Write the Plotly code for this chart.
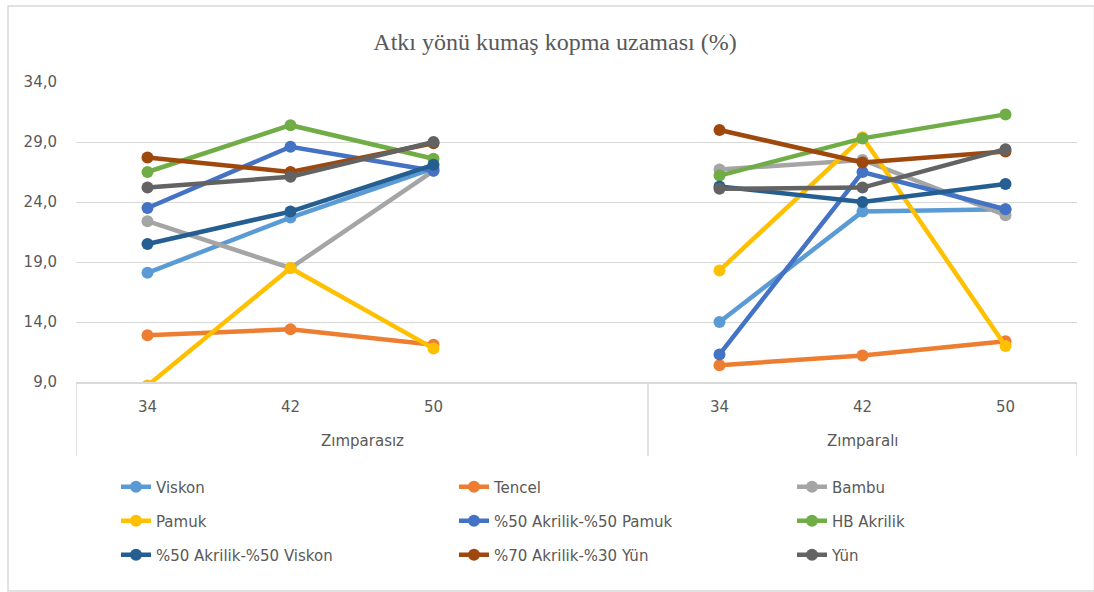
import plotly.graph_objects as go

# ---------------- data ----------------
groups = ["Zımparasız", "Zımparalı"]
counts = ["34", "42", "50"]

series_names = [
    "Viskon", "Tencel", "Bambu",
    "Pamuk", "%50 Akrilik-%50 Pamuk", "HB Akrilik",
    "%50 Akrilik-%50 Viskon", "%70 Akrilik-%30 Yün", "Yün",
]
# values: Zımparasız 34, 42, 50 | Zımparalı 34, 42, 50
viskon = [18.1, 22.7, 26.8, 14.0, 23.2, 23.4]
tencel = [12.9, 13.4, 12.1, 10.4, 11.2, 12.4]
bambu = [22.4, 18.5, 26.6, 26.7, 27.5, 22.9]
pamuk = [8.7, 18.5, 11.8, 18.3, 29.4, 12.0]
akr_pamuk = [23.5, 28.6, 26.6, 11.3, 26.5, 23.4]
hb_akrilik = [26.5, 30.4, 27.6, 26.2, 29.3, 31.3]
akr_viskon = [20.5, 23.2, 27.1, 25.3, 24.0, 25.5]
akr_yun = [27.7, 26.5, 28.9, 30.0, 27.3, 28.2]
yun = [25.2, 26.1, 29.0, 25.1, 25.2, 28.4]

series_values = [viskon, tencel, bambu, pamuk, akr_pamuk, hb_akrilik,
                 akr_viskon, akr_yun, yun]
colors = ["#5B9BD5", "#ED7D31", "#A5A5A5", "#FFC000", "#4472C4", "#70AD47",
          "#255E91", "#9E480E", "#636363"]

y_ticks = [9, 14, 19, 24, 29, 34]
title_text = "Atkı yönü kumaş kopma uzaması (%)"

# ---------------- layout geometry ----------------
W, H = 1094, 592
L, R, T, B = 76, 17, 82, 210
plot_w = W - L - R
plot_h = H - T - B


def px_x(px):
    return (px - L) / plot_w


def px_y(py):
    return (H - B - py) / plot_h


# category slots: each group has its counts, first group followed by one empty slot
slots_per_group = [len(counts) + 1, len(counts)]
group_start = [0, slots_per_group[0]]
x_pos, x_text = [], []
for gi in range(len(groups)):
    for ci, c in enumerate(counts):
        x_pos.append(group_start[gi] + ci)
        x_text.append(c)
n_slots = sum(slots_per_group)

# legend grid: 3 columns x 3 rows, one small legend per entry
leg_cols_x = [116, 454, 792]
leg_rows_y = [487, 521, 555]
legend_ids = ["legend" if k == 0 else f"legend{k + 1}" for k in range(len(series_names))]

fig = go.Figure()
for i, (name, vals, col) in enumerate(zip(series_names, series_values, colors)):
    for gi in range(len(groups)):
        seg = slice(gi * len(counts), (gi + 1) * len(counts))
        fig.add_trace(go.Scatter(
            x=x_pos[seg], y=vals[seg], name=name,
            mode="lines+markers",
            line=dict(color=col, width=4.5),
            marker=dict(color=col, size=12),
            legend=legend_ids[i],
            legendgroup=name,
            showlegend=(gi == 0),
            hovertemplate=groups[gi] + " %{text}: %{y:.1f}<extra>" + name + "</extra>",
            text=x_text[seg],
        ))

font_main = "DejaVu Sans"
txt_col = "#595959"
grid_col = "#D9D9D9"

legends = {}
for k, lid in enumerate(legend_ids):
    legends[lid] = dict(
        orientation="h", xref="container", yref="container",
        xanchor="left", yanchor="middle",
        x=leg_cols_x[k % 3] / W, y=1 - leg_rows_y[k // 3] / H,
        font=dict(family=font_main, size=15, color=txt_col),
        bgcolor="rgba(0,0,0,0)",
    )

fig.update_layout(
    width=W, height=H,
    margin=dict(l=L, r=R, t=T, b=B, pad=0),
    paper_bgcolor="white", plot_bgcolor="white",
    separators=",.",
    title=dict(text=title_text, x=555 / W, xanchor="center", xref="container",
               y=1 - 42 / H, yanchor="middle", yref="container",
               font=dict(family="Liberation Serif", size=24, color=txt_col)),
    font=dict(family=font_main, size=15, color=txt_col),
    showlegend=True,
    **legends,
)

fig.update_yaxes(
    range=[9, 34], tickvals=y_ticks, tickformat=".1f",
    showgrid=True, gridcolor=grid_col, gridwidth=1.3,
    zeroline=False, showline=False, ticks="",
    ticklabelstandoff=18,
    tickfont=dict(family=font_main, size=15, color=txt_col),
)
fig.update_xaxes(
    range=[-0.5, n_slots - 0.5], tickvals=x_pos, ticktext=x_text,
    showgrid=False, zeroline=False,
    showline=True, linecolor=grid_col, linewidth=1.5,
    ticks="", ticklabelstandoff=10,
    tickfont=dict(family=font_main, size=15, color=txt_col),
)

# group labels and dividers
edges = [-0.5]
for s in slots_per_group:
    edges.append(edges[-1] + s)
for gi, g in enumerate(groups):
    fig.add_annotation(x=(edges[gi] + edges[gi + 1]) / 2, y=px_y(441),
                       xref="x", yref="paper", text=g, showarrow=False,
                       font=dict(family=font_main, size=15, color=txt_col),
                       xanchor="center", yanchor="middle")
for e in edges:
    fig.add_shape(type="line", xref="x", yref="paper", x0=e, x1=e,
                  y0=0, y1=px_y(456), line=dict(color=grid_col, width=1.5))

# outer chart border
fig.add_shape(type="rect", xref="paper", yref="paper",
              x0=px_x(8), x1=px_x(1094.5), y0=px_y(591), y1=px_y(6),
              line=dict(color=grid_col, width=1.5), layer="below")

fig.write_html("out.html")
